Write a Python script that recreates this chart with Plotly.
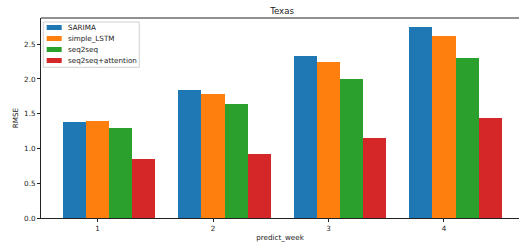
import plotly.graph_objects as go

weeks = [1, 2, 3, 4]
series_names = ["SARIMA", "simple_LSTM", "seq2seq", "seq2seq+attention"]
sarima = [1.375, 1.836, 2.325, 2.748]
simple_lstm = [1.40, 1.784, 2.249, 2.619]
seq2seq = [1.295, 1.645, 2.004, 2.302]
seq2seq_attention = [0.853, 0.925, 1.145, 1.439]
y_ticks = [0.0, 0.5, 1.0, 1.5, 2.0, 2.5]

colors = ["#1f77b4", "#ff7f0e", "#2ca02c", "#d62728"]
all_values = [sarima, simple_lstm, seq2seq, seq2seq_attention]

FONT = "DejaVu Sans"
fig = go.Figure()
bar_w = 0.2
for i, (name, vals) in enumerate(zip(series_names, all_values)):
    fig.add_trace(go.Bar(
        x=weeks, y=vals, name=name,
        width=bar_w, offset=-0.3 + bar_w * i,
        marker=dict(color=colors[i], line=dict(width=0)),
        showlegend=False,
    ))

# Custom compact legend (matplotlib-style)
shapes = [dict(type="rect", xref="paper", yref="paper",
               x0=0.0048, x1=0.2056, y0=0.7535, y1=0.98,
               line=dict(color="#d0d0d0", width=1),
               fillcolor="rgba(255,255,255,0.8)", layer="above")]
annotations = []
row_y = [0.9525, 0.8975, 0.8425, 0.7875]
for i, name in enumerate(series_names):
    shapes.append(dict(type="rect", xref="paper", yref="paper",
                       x0=0.0119, x1=0.0433, y0=row_y[i] - 0.0125, y1=row_y[i] + 0.0125,
                       line=dict(width=0), fillcolor=colors[i], layer="above"))
    annotations.append(dict(xref="paper", yref="paper", x=0.0530, y=row_y[i],
                            xanchor="left", yanchor="middle", text=name, showarrow=False,
                            font=dict(family=FONT, size=7.2, color="#222")))

fig.update_layout(
    width=519, height=249,
    margin=dict(l=41, r=0, t=18, b=31),
    paper_bgcolor="white", plot_bgcolor="white",
    barmode="overlay", bargap=0,
    font=dict(family=FONT, size=7.2, color="#222"),
    title=dict(text="Texas", xref="container", yref="container",
               x=0.5434, y=0.9558, xanchor="center", yanchor="middle",
               font=dict(family=FONT, size=8.6, color="#222")),
    shapes=shapes, annotations=annotations,
)
fig.update_xaxes(
    range=[0.51, 4.65], tickmode="array", tickvals=weeks, ticktext=[str(w) for w in weeks],
    showgrid=False, zeroline=False, showline=True, linecolor="#222", linewidth=1,
    ticks="outside", ticklen=3, tickcolor="#222",
    title=dict(text="predict_week", standoff=3, font=dict(family=FONT, size=7.2, color="#222")),
    mirror=False,
)
fig.update_yaxes(
    range=[0, 2.877], tickmode="array", tickvals=y_ticks, ticktext=[f"{v:.1f}" for v in y_ticks],
    showgrid=False, zeroline=False, showline=True, linecolor="#222", linewidth=1,
    ticks="outside", ticklen=3, tickcolor="#222",
    title=dict(text="RMSE", standoff=4, font=dict(family=FONT, size=7.2, color="#222")),
)
# top spine
fig.add_shape(type="line", xref="paper", yref="paper", x0=0, x1=1, y0=1, y1=1,
              line=dict(color="#222", width=1))

fig.write_html("out.html", config={"displayModeBar": False},
               post_script="document.body.style.margin='0';document.body.style.overflow='hidden';")
